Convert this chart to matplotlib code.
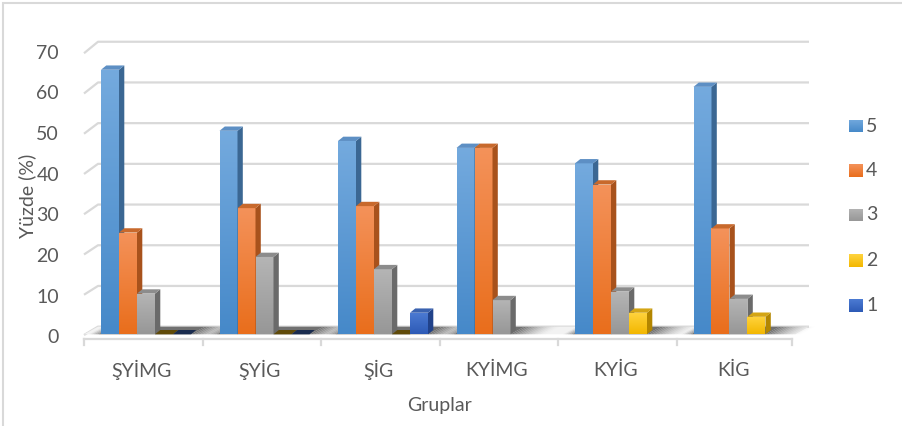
import numpy as np
import matplotlib
matplotlib.use("Agg")
import matplotlib.pyplot as plt
from matplotlib.patches import Polygon, Rectangle
from matplotlib.colors import to_rgb

plt.rcParams['font.family'] = ['Lato', 'DejaVu Sans']

# ---- data -------------------------------------------------------------
groups = ["ŞYİMG", "ŞYİG", "ŞİG", "KYİMG", "KYİG", "KİG"]
series_names = ["5", "4", "3", "2", "1"]
s5 = [65.0, 50.0, 47.5, 45.8, 42.0, 60.8]
s4 = [25.0, 31.0, 31.5, 45.8, 36.8, 26.0]
s3 = [10.0, 19.0, 16.0, 8.4, 10.5, 8.7]
s2 = [0.0, 0.0, 0.0, np.nan, 5.3, 4.3]
s1 = [0.0, 0.0, 5.3, np.nan, np.nan, np.nan]
yticks = [0, 10, 20, 30, 40, 50, 60, 70]
x_title = "Gruplar"
y_title = "Yüzde (%)"

# ---- styling ----------------------------------------------------------
# (front top, front bottom, side, top)
palette = [
    ("#74aade", "#4689c9", "#3b6793", "#5d8fc4"),
    ("#f4925a", "#e96e1c", "#a8521c", "#c8692c"),
    ("#b5b5b5", "#979797", "#6a6a6a", "#8c8c8c"),
    ("#ffd43f", "#f3b700", "#b38600", "#d4a514"),
    ("#4c7bd3", "#2d5ab6", "#21428a", "#3a62b0"),
]
TXT = "#595959"
GRID = "#d9d9d9"
FS = 14

W, H = 903, 426
fig = plt.figure(figsize=(W / 100, H / 100), dpi=100)
ax_left, ax_right = 84, 795
ax_bot = 334.3
px_per_unit = 4.07
ax_top = ax_bot - 70 * px_per_unit
ax = fig.add_axes([ax_left / W, (H - ax_bot) / H,
                   (ax_right - ax_left) / W, (ax_bot - ax_top) / H])
n = len(groups)
ax.set_xlim(-0.5, n - 0.5)
ax.set_ylim(0, 70)
ax.axis("off")

PX = n / (ax_right - ax_left)          # data units per pixel, x
PY = 1 / px_per_unit                   # data units per pixel, y
DX, DY = 14 * PX, 7.65 * PY            # depth of the back wall
BDX, BDY = 5.3 * PX, 4.3 * PY          # depth of each column
BW = 18 * PX                           # column width
B0 = 17 * PX                           # gap before first column in a group

# back-wall gridlines with the left diagonal
for v in yticks:
    ax.plot([-0.5, -0.5 + DX, n - 0.5 + DX],
            [0.989 * v - 0.17, v + DY, v + DY],
            color=GRID, lw=1.6, clip_on=False, zorder=1,
            solid_capstyle="butt")

# floor
floor = Polygon([(-0.5, 0), (-0.5 + DX, DY), (n - 0.5 + DX, DY), (n - 0.5, 0)],
                closed=True, facecolor="#f2f2f2", edgecolor="none",
                clip_on=False, zorder=2)
ax.add_patch(floor)

values = [s5, s4, s3, s2, s1]


def floor_band(xa, xb, alpha):
    return Polygon([(xa, 0), (xa + DX, DY), (xb + DX, DY), (xb, 0)],
                   closed=True, facecolor="#5a5a5a", edgecolor="none",
                   alpha=alpha, clip_on=False, zorder=3)


# soft shadows cast on the floor by each group
for c in range(n):
    present = [i for i in range(5) if not np.isnan(values[i][c])]
    xa = c - 0.5 + B0
    xb = c - 0.5 + B0 + (max(present) + 1) * BW
    ax.add_patch(floor_band(xa - 0.02, xb, 0.85))
    steps = 12
    fade = 0.3
    for k in range(steps):
        a0 = xb + fade * k / steps
        a1 = xb + fade * (k + 1) / steps
        ax.add_patch(floor_band(a0, a1, 0.85 * (1 - (k + 0.5) / steps) ** 1.5))
    for k in range(4):
        a0 = xa - 0.02 - 0.08 * (k + 1) / 4
        a1 = xa - 0.02 - 0.08 * k / 4
        ax.add_patch(floor_band(a0, a1, 0.6 * (1 - (k + 0.5) / 4)))


def darker(col, f):
    r, g, b = to_rgb(col)
    return (r * f, g * f, b * f)


def gradient_image(ctop, cbot):
    t = np.linspace(0, 1, 64).reshape(-1, 1, 1)
    a, b = np.array(to_rgb(ctop)), np.array(to_rgb(cbot))
    return a[None, None, :] * (1 - t) + b[None, None, :] * t


# columns
z = 10
for c in range(n):
    for i in range(5):
        v = values[i][c]
        if np.isnan(v):
            continue
        ftop, fbot, side, top = palette[i]
        x0 = c - 0.5 + B0 + i * BW
        x1 = x0 + BW
        if v <= 0:
            ax.add_patch(Polygon([(x0, 0), (x0 + BDX, BDY), (x1 + BDX, BDY), (x1, 0)],
                                 closed=True, facecolor=darker(top, 0.45),
                                 edgecolor="none", clip_on=False, zorder=z))
            z += 1
            continue
        bar = ax.bar([x0], [v], width=BW, align="edge", color=fbot,
                     edgecolor="none", zorder=z, clip_on=False)[0]
        im = ax.imshow(gradient_image(ftop, fbot), extent=[x0, x1, 0, v],
                       origin="upper", aspect="auto", zorder=z + 0.1,
                       interpolation="bilinear")
        im.set_clip_path(bar)
        ax.add_patch(Polygon([(x1, 0), (x1 + BDX, BDY), (x1 + BDX, v + BDY), (x1, v)],
                             closed=True, facecolor=side, edgecolor="none",
                             clip_on=False, zorder=z + 0.2))
        ax.add_patch(Polygon([(x0, v), (x0 + BDX, v + BDY), (x1 + BDX, v + BDY), (x1, v)],
                             closed=True, facecolor=top, edgecolor="none",
                             clip_on=False, zorder=z + 0.2))
        z += 1

ax.set_xlim(-0.5, n - 0.5)
ax.set_ylim(0, 70)

# category axis with ticks
ay = -5 * PY
ax.plot([-0.5, n - 0.5 - 3 * PX], [ay, ay], color=GRID, lw=1.6,
        clip_on=False, zorder=5)
for b in range(n + 1):
    xb = b - 0.5 - (3 * PX if b == n else 0)
    ax.plot([xb, xb], [ay, ay - 6 * PY], color=GRID, lw=1.6,
            clip_on=False, zorder=5)

# labels
for c, g in enumerate(groups):
    ax.text(c - 2 * PX, -36 * PY, g, ha="center", va="center", fontsize=FS,
            color=TXT, clip_on=False)
for v in yticks:
    ax.text(-0.5 - 25 * PX, v - 0.9, str(v), ha="right", va="center",
            fontsize=FS, color=TXT, clip_on=False)
ax.text((n - 1) / 2, -71 * PY, x_title, ha="center", va="center",
        fontsize=FS, color=TXT, clip_on=False)
fig.text(27 / W, 1 - 196 / H, y_title, rotation=90, ha="center", va="center",
         fontsize=FS, color=TXT)

# legend
leg_y = [126, 170.5, 215, 260.5, 305.5]
for i, name in enumerate(series_names):
    ftop, fbot, side, top = palette[i]
    yc = leg_y[i]
    lax = fig.add_axes([849 / W, 1 - (yc + 6.5) / H, 13.5 / W, 13 / H])
    lax.imshow(gradient_image(ftop, fbot), aspect="auto",
               interpolation="bilinear")
    lax.axis("off")
    fig.text(866 / W, 1 - yc / H, name, ha="left", va="center", fontsize=FS,
             color=TXT)

# chart area border
fig.add_artist(Rectangle((3 / W, -0.02), 1.02, 1 - 3.5 / H + 0.02,
                         transform=fig.transFigure, facecolor="none",
                         edgecolor=GRID, lw=1.5))

fig.savefig("out.png", dpi=100)
